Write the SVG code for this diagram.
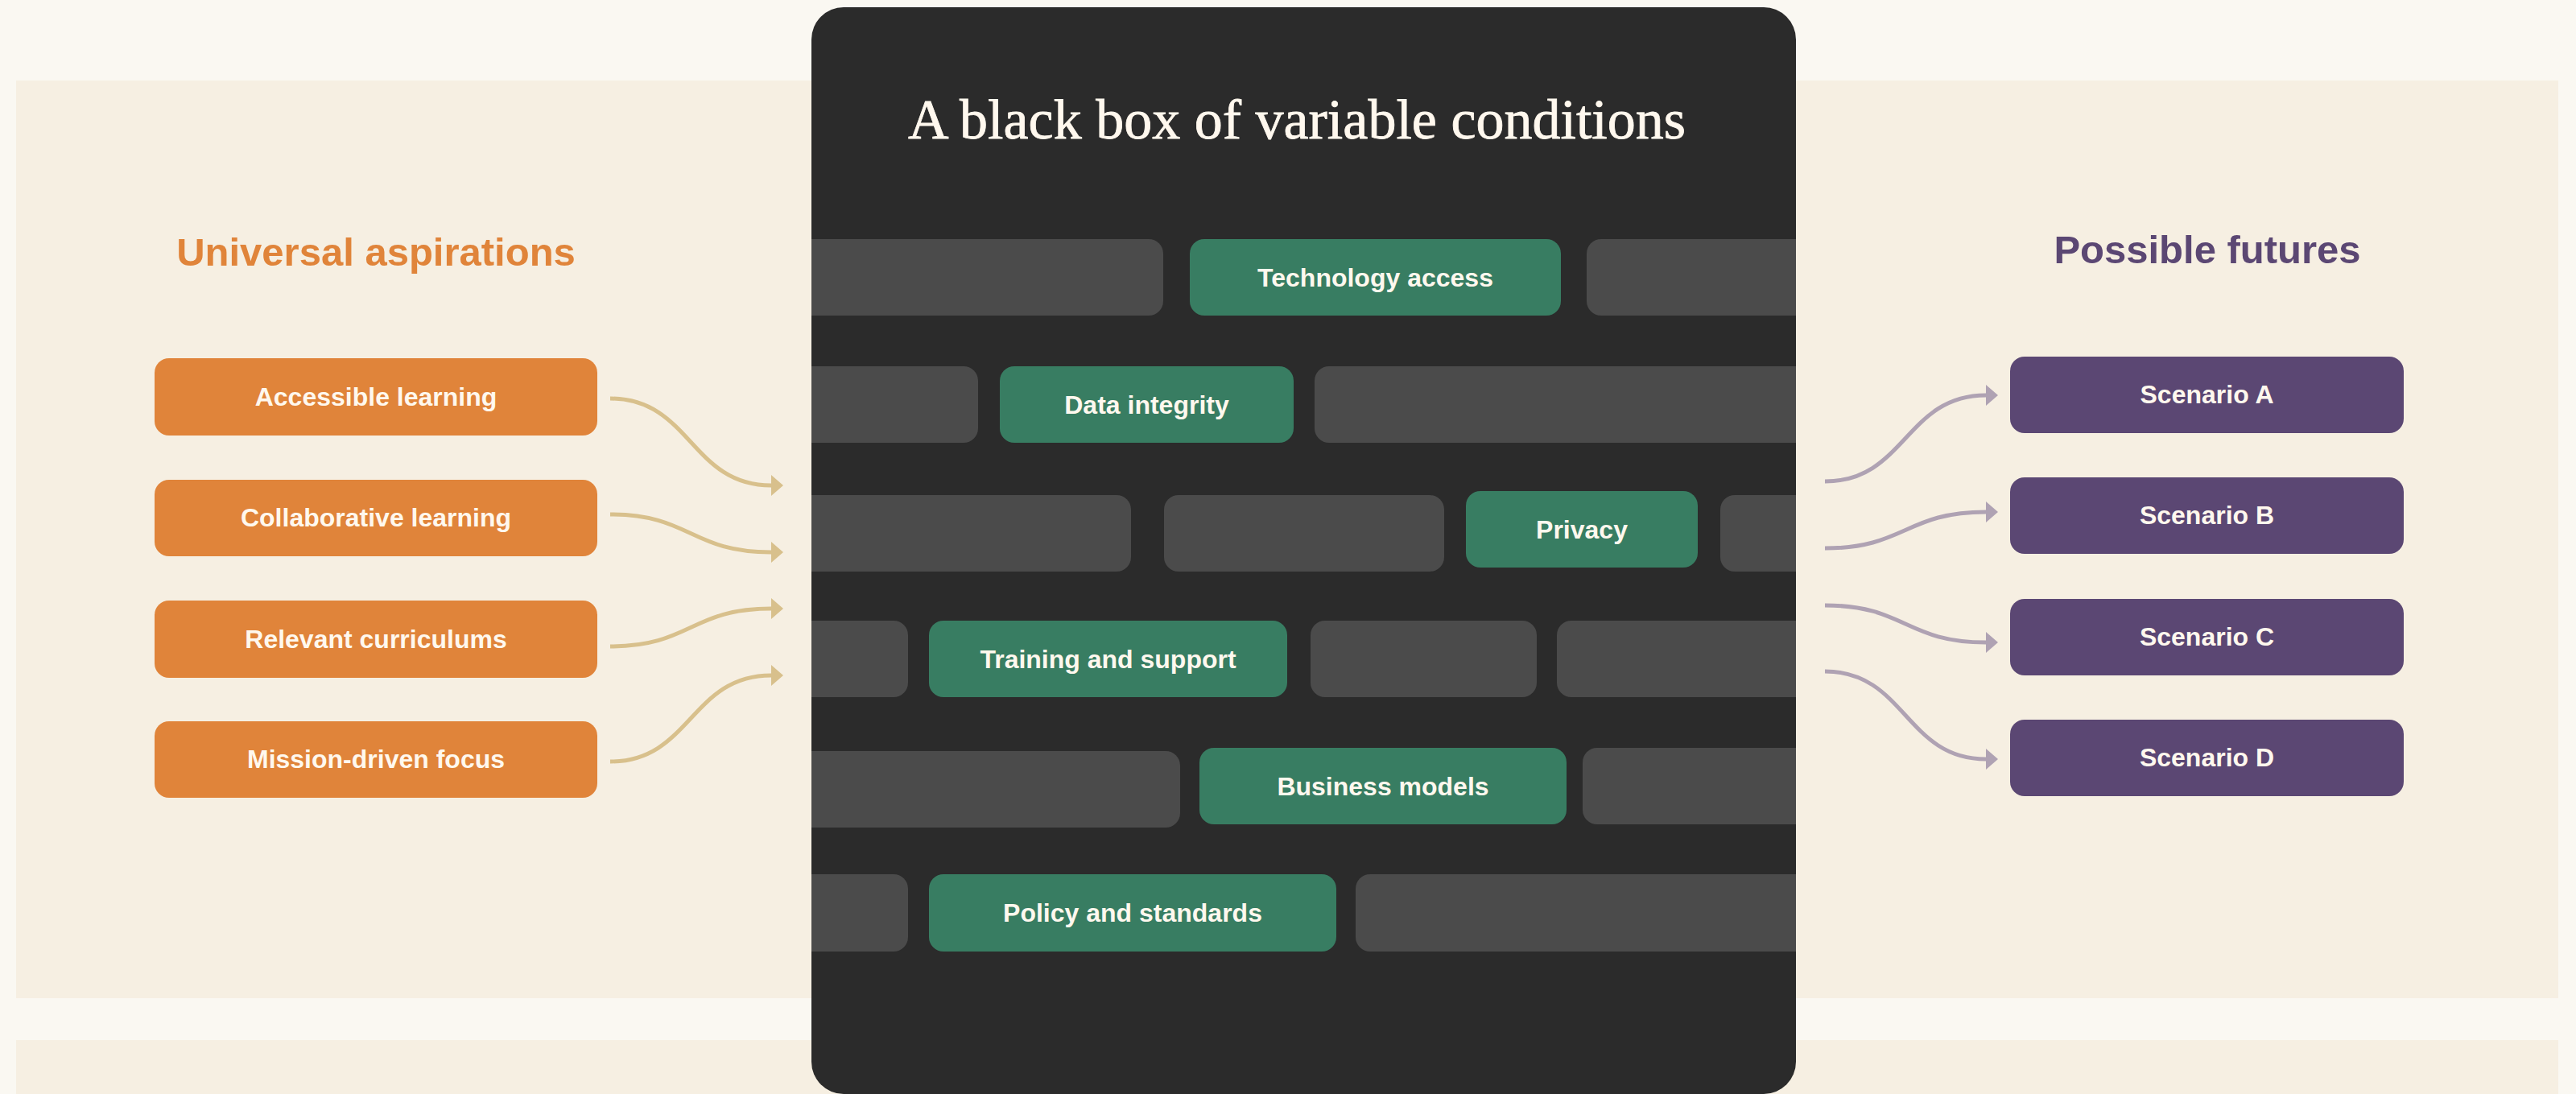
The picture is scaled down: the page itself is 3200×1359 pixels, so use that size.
<svg xmlns="http://www.w3.org/2000/svg" width="3200" height="1359" viewBox="0 0 3200 1359">
<defs>
<style>
.panel{fill:#F6EFE2}
.bar{fill:#4B4B4B}
.cond{fill:#387D62}
.asp{fill:#E0843A}
.fut{fill:#5B4773}
.lbl{font-family:"Liberation Sans",Arial,sans-serif;font-weight:700;font-size:32px;fill:#FFF8EE;text-anchor:middle}
.head{font-family:"Liberation Sans",Arial,sans-serif;font-weight:700;font-size:49px;text-anchor:middle}
.title{font-family:"Liberation Serif","Times New Roman",serif;font-size:70px;fill:#FFF8EE;text-anchor:middle;stroke:#FFF8EE;stroke-width:0.8}
.cin{fill:none;stroke:#D8C08C;stroke-width:5}
.cout{fill:none;stroke:#AFA2B3;stroke-width:5}
</style>
<clipPath id="boxclip"><rect x="1008" y="9" width="1223" height="1350" rx="40"/></clipPath>
<marker id="arrIn" viewBox="0 0 15 26" markerWidth="15" markerHeight="26" refX="0" refY="13" markerUnits="userSpaceOnUse" orient="auto"><path d="M0,0 L15,13 L0,26 Z" fill="#D8C08C"/></marker>
<marker id="arrOut" viewBox="0 0 15 26" markerWidth="15" markerHeight="26" refX="0" refY="13" markerUnits="userSpaceOnUse" orient="auto"><path d="M0,0 L15,13 L0,26 Z" fill="#AFA2B3"/></marker>
</defs>
<rect x="0" y="0" width="3200" height="1359" fill="#FAF8F2"/>
<rect class="panel" x="20" y="100" width="3158" height="1140"/>
<rect class="panel" x="20" y="1292" width="3158" height="67"/>

<g id="blackbox">
<rect x="1008" y="9" width="1223" height="1350" rx="40" fill="#2B2B2B"/>
<text class="title" x="1611" y="172">A black box of variable conditions</text>
<g clip-path="url(#boxclip)">
<rect class="bar" x="948" y="297" width="497" height="95" rx="18"/>
<rect class="bar" x="1971" y="297" width="320" height="95" rx="18"/>
<rect class="bar" x="948" y="455" width="267" height="95" rx="18"/>
<rect class="bar" x="1633" y="455" width="658" height="95" rx="18"/>
<rect class="bar" x="948" y="615" width="457" height="95" rx="18"/>
<rect class="bar" x="1446" y="615" width="348" height="95" rx="18"/>
<rect class="bar" x="2137" y="615" width="154" height="95" rx="18"/>
<rect class="bar" x="948" y="771" width="180" height="95" rx="18"/>
<rect class="bar" x="1628" y="771" width="281" height="95" rx="18"/>
<rect class="bar" x="1934" y="771" width="357" height="95" rx="18"/>
<rect class="bar" x="948" y="933" width="518" height="95" rx="18"/>
<rect class="bar" x="1966" y="929" width="325" height="95" rx="18"/>
<rect class="bar" x="948" y="1086" width="180" height="96" rx="18"/>
<rect class="bar" x="1684" y="1086" width="607" height="96" rx="18"/>
</g>
</g>

<g id="cond-technology"><rect class="cond" x="1478" y="297" width="461" height="95" rx="18"/><text class="lbl" x="1708.5" y="356">Technology access</text></g>
<g id="cond-data"><rect class="cond" x="1242" y="455" width="365" height="95" rx="18"/><text class="lbl" x="1424.5" y="514">Data integrity</text></g>
<g id="cond-privacy"><rect class="cond" x="1821" y="610" width="288" height="95" rx="18"/><text class="lbl" x="1965" y="669">Privacy</text></g>
<g id="cond-training"><rect class="cond" x="1154" y="771" width="445" height="95" rx="18"/><text class="lbl" x="1376.5" y="830">Training and support</text></g>
<g id="cond-business"><rect class="cond" x="1490" y="929" width="456" height="95" rx="18"/><text class="lbl" x="1718" y="988">Business models</text></g>
<g id="cond-policy"><rect class="cond" x="1154" y="1086" width="506" height="96" rx="18"/><text class="lbl" x="1407" y="1145">Policy and standards</text></g>

<g id="heading-aspirations"><text class="head" x="467" y="330" fill="#E0843A">Universal aspirations</text></g>
<g id="heading-futures"><text class="head" x="2742" y="327" fill="#5B4773">Possible futures</text></g>

<g id="asp-accessible"><rect class="asp" x="192" y="445" width="550" height="96" rx="18"/><text class="lbl" x="467" y="504">Accessible learning</text></g>
<g id="asp-collaborative"><rect class="asp" x="192" y="596" width="550" height="95" rx="18"/><text class="lbl" x="467" y="654">Collaborative learning</text></g>
<g id="asp-relevant"><rect class="asp" x="192" y="746" width="550" height="96" rx="18"/><text class="lbl" x="467" y="805">Relevant curriculums</text></g>
<g id="asp-mission"><rect class="asp" x="192" y="896" width="550" height="95" rx="18"/><text class="lbl" x="467" y="954">Mission-driven focus</text></g>

<g id="fut-a"><rect class="fut" x="2497" y="443" width="489" height="95" rx="18"/><text class="lbl" x="2741.5" y="501">Scenario A</text></g>
<g id="fut-b"><rect class="fut" x="2497" y="593" width="489" height="95" rx="18"/><text class="lbl" x="2741.5" y="651">Scenario B</text></g>
<g id="fut-c"><rect class="fut" x="2497" y="744" width="489" height="95" rx="18"/><text class="lbl" x="2741.5" y="802">Scenario C</text></g>
<g id="fut-d"><rect class="fut" x="2497" y="894" width="489" height="95" rx="18"/><text class="lbl" x="2741.5" y="952">Scenario D</text></g>

<g id="connectors">
<path class="cin" d="M758,495 C858,495 858,603 958,603" marker-end="url(#arrIn)"/>
<path class="cin" d="M758,639 C858,639 858,686 958,686" marker-end="url(#arrIn)"/>
<path class="cin" d="M758,803 C858,803 858,756 958,756" marker-end="url(#arrIn)"/>
<path class="cin" d="M758,946 C858,946 858,839 958,839" marker-end="url(#arrIn)"/>
<path class="cout" d="M2267,598 C2367,598 2367,491 2467,491" marker-end="url(#arrOut)"/>
<path class="cout" d="M2267,681 C2367,681 2367,636 2467,636" marker-end="url(#arrOut)"/>
<path class="cout" d="M2267,752 C2367,752 2367,798 2467,798" marker-end="url(#arrOut)"/>
<path class="cout" d="M2267,834 C2367,834 2367,943 2467,943" marker-end="url(#arrOut)"/>
</g>
</svg>
